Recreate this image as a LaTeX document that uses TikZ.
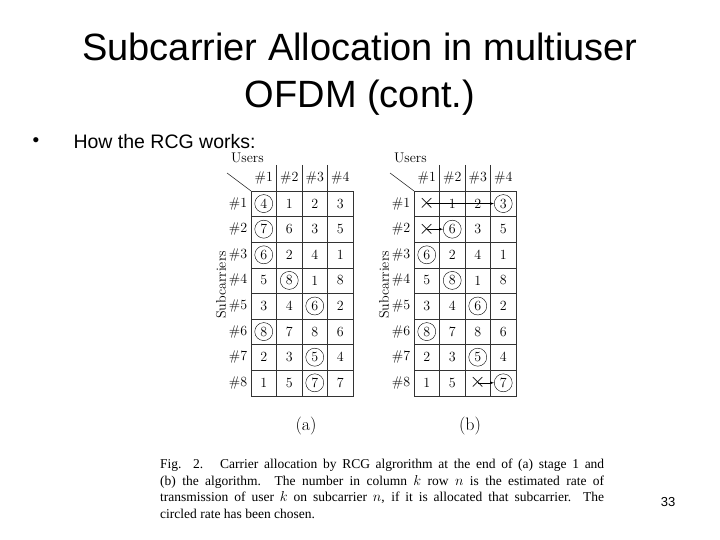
\documentclass[tikz,border=0pt]{standalone}
\usepackage{fontspec}
\setmainfont{Liberation Sans}
\newfontfamily\tabfont{Latin Modern Roman}
\newfontfamily\capfont{Liberation Serif}
\begin{document}
\begin{tikzpicture}[x=1pt,y=-1pt,
  cell/.style={font=\tabfont\fontsize{14}{14}\selectfont,inner sep=0pt},
  circ/.style={draw,circle,minimum size=18pt,inner sep=0pt},
  grid/.style={line width=0.6pt,black!80}]
\useasboundingbox (0,0) rectangle (720,540);
\node[font=\fontsize{38}{47}\selectfont,align=center] (title) at (360,74) {Subcarrier Allocation in multiuser\\OFDM (cont.)};
\node[font=\fontsize{19}{20}\selectfont] (bul) at (36,142) {•};
\node[font=\fontsize{19.5}{20}\selectfont,anchor=west] (how) at (70,142) {How the RCG works:};
\node[font=\fontsize{13}{15}\selectfont] (pg) at (668,502) {33};
\def\vals{{{4,1,2,3},{7,6,3,5},{6,2,4,1},{5,8,1,8},{3,4,6,2},{8,7,8,6},{2,3,5,4},{1,5,7,7}}}
\foreach \X/\tag/\circs in {251/a/{1,1,1,2,3,1,3,3},414/b/{4,2,1,2,3,1,3,4}}{
  \begin{scope}[shift={(\X,0)}]
  \draw[grid] (0,191) rectangle (102,396);
  \foreach \i in {1,...,7} \draw[grid] (0,191+25.6*\i) -- (102,191+25.6*\i);
  \foreach \j in {1,2,3} \draw[grid] (25.5*\j,165) -- (25.5*\j,396);
  \draw[grid] (-24,173) -- (0,191);
  \node[cell,anchor=west] (users\tag) at (-20,158) {Users};
  \node[cell,rotate=90] (sub\tag) at (-30,285) {Subcarriers};
  \foreach \j in {1,...,4} \node[cell] (h\tag\j) at (25.5*\j-12.75,178) {\#\j};
  \foreach \i in {1,...,8} {
    \node[cell] (r\tag\i) at (-13,178+25.6*\i) {\#\i};
    \foreach \j in {1,...,4} {
      \pgfmathtruncatemacro\v{\vals[\i-1][\j-1]}
      \node[cell] (c\tag\i\j) at (25.5*\j-12.75,178+25.6*\i) {\v};
    }
    \pgfmathtruncatemacro\cc{{\circs}[\i-1]}
    \node[circ] (o\tag\i) at (25.5*\cc-12.75,178+25.6*\i) {};
  }
  \end{scope}
}
\node[cell,fill=white,minimum size=14pt,font=\fontsize{20}{20}\selectfont] (x1) at (cb11) {$\times$};
\node[cell,fill=white,minimum size=14pt,font=\fontsize{20}{20}\selectfont] (x2) at (cb21) {$\times$};
\node[cell,fill=white,minimum size=14pt,font=\fontsize{20}{20}\selectfont] (x8) at (cb83) {$\times$};
\draw[-latex,thin] (x1.center) -- (ob1);
\draw[-latex,thin] (x2.center) -- (ob2);
\draw[-latex,thin] (x8.center) -- (ob8);
\node[font=\tabfont\fontsize{18}{18}\selectfont] (la) at (306,426) {(a)};
\node[font=\tabfont\fontsize{18}{18}\selectfont] (lb) at (470,426) {(b)};
\node[font=\capfont\fontsize{13.5}{16.5}\selectfont,anchor=north west,align=justify,text width=444pt,inner sep=0pt] (cap) at (160,459)
{Fig. 2.\ \ \ Carrier allocation by RCG algrorithm at the end of (a) stage 1 and\linebreak (b) the algorithm. The number in column $k$ row $n$ is the estimated rate of\linebreak transmission of user $k$ on subcarrier $n$, if it is allocated that subcarrier. The\linebreak circled rate has been chosen.};
\end{tikzpicture}
\end{document}
